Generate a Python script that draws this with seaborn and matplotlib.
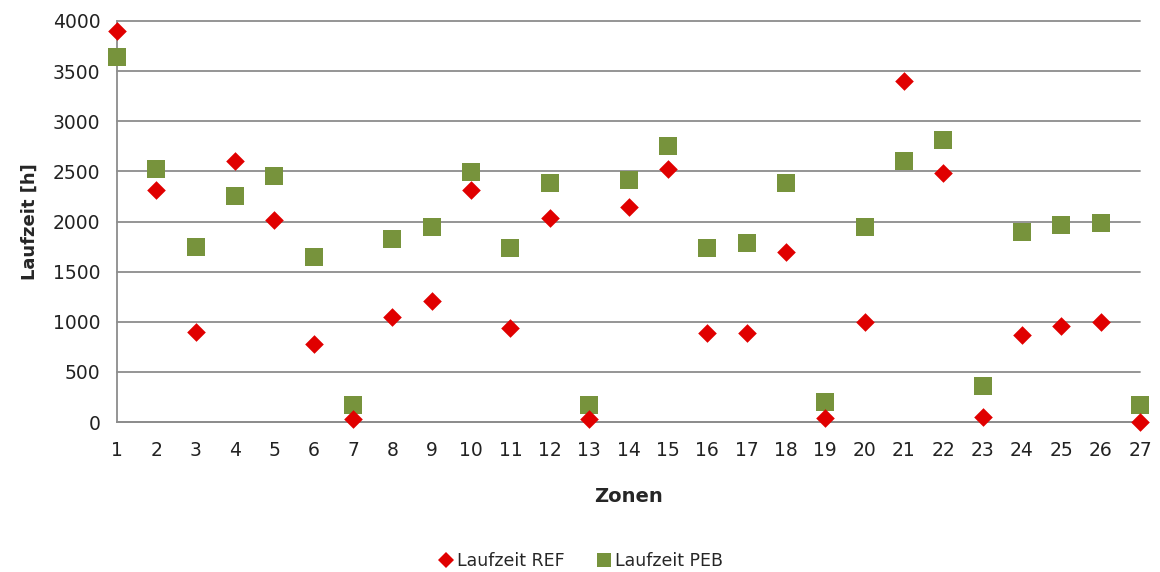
import matplotlib
matplotlib.use("Agg")
import matplotlib.pyplot as plt
import seaborn as sns
import pandas as pd
from matplotlib.lines import Line2D

zonen = list(range(1, 28))
laufzeit_ref = [3900, 2310, 900, 2600, 2010, 780, 27, 1050, 1207, 2310,
                940, 2030, 27, 2140, 2525, 890, 890, 1695, 37, 995,
                3400, 2480, 53, 868, 958, 995, 0]
laufzeit_peb = [3645, 2520, 1742, 2254, 2455, 1650, 170, 1825, 1948, 2497,
                1737, 2384, 170, 2410, 2756, 1737, 1789, 2387, 203, 1948,
                2605, 2812, 360, 1898, 1966, 1988, 170]

red = "#E00000"
green = "#77933C"
grid_grey = "#8C8C8C"

sns.set_style("white")
plt.rcParams["font.family"] = ["DejaVu Sans"]

df_ref = pd.DataFrame({"Zone": zonen, "Laufzeit": laufzeit_ref})
df_peb = pd.DataFrame({"Zone": zonen, "Laufzeit": laufzeit_peb})

fig = plt.figure(figsize=(11.6, 5.72), dpi=100)
ax = fig.add_axes([117 / 1160, 1 - 422 / 572, (1140 - 117) / 1160, (422 - 21) / 572])

sns.scatterplot(data=df_peb, x="Zone", y="Laufzeit", marker="s", s=165, color=green,
                linewidth=0, ax=ax, zorder=3, clip_on=False)
sns.scatterplot(data=df_ref, x="Zone", y="Laufzeit", marker="D", s=90, color=red,
                linewidth=0, ax=ax, zorder=4, clip_on=False)

ax.set_xlim(1, 27)
ax.set_ylim(0, 4000)
ax.set_xticks(zonen)
ax.set_yticks(range(0, 4001, 500))
ax.yaxis.grid(True, color=grid_grey, linewidth=1.3)
for gl in ax.get_ygridlines():
    gl.set_clip_on(False)
ax.set_axisbelow(True)
for side in ["top", "right"]:
    ax.spines[side].set_visible(False)
for side in ["left", "bottom"]:
    ax.spines[side].set_color(grid_grey)
    ax.spines[side].set_linewidth(1.3)
ax.tick_params(axis="both", which="major", direction="out", color=grid_grey,
               length=7, width=1.2, labelsize=13.5, labelcolor="#222222")
ax.tick_params(axis="x", pad=7)
ax.tick_params(axis="y", pad=5)

ax.set_xlabel("Zonen", fontsize=14, fontweight="bold", labelpad=19)
ax.set_ylabel("Laufzeit [h]", fontsize=13, fontweight="bold", labelpad=10)

handles = [
    Line2D([], [], marker="D", linestyle="none", color=red, markersize=8, markeredgewidth=0),
    Line2D([], [], marker="s", linestyle="none", color=green, markersize=10, markeredgewidth=0),
]
fig.legend(handles, ["Laufzeit REF", "Laufzeit PEB"], loc="center", bbox_to_anchor=(0.5, 1 - 561 / 572),
           ncol=2, frameon=False, fontsize=12.5, handletextpad=0.1, columnspacing=1.8, handlelength=1.0)

fig.savefig("out.png", dpi=100)
